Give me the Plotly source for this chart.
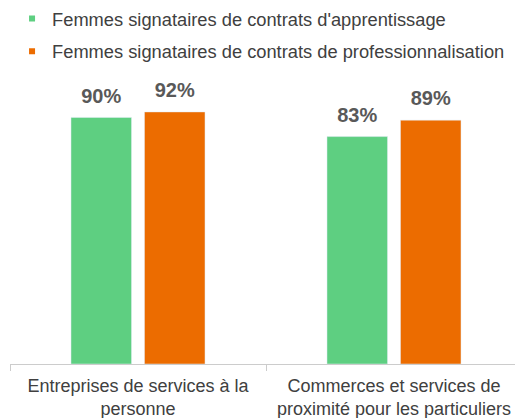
import plotly.graph_objects as go

categories = ["Entreprises de services à la<br>personne",
              "Commerces et services de<br>proximité pour les particuliers"]
apprentissage = [90, 83]
professionnalisation = [92, 89]
series_names = ["Femmes signataires de contrats d'apprentissage",
                "Femmes signataires de contrats de professionnalisation"]
colors = ["#5ECF81", "#EC6C00"]

fig = go.Figure()
for i, (name, vals, col) in enumerate(zip(series_names, [apprentissage, professionnalisation], colors)):
    fig.add_trace(go.Bar(
        x=categories, y=vals, name=name, marker_color=col,
        offsetgroup=str(i), showlegend=False))
for i, (name, vals, col) in enumerate(zip(series_names, [apprentissage, professionnalisation], colors)):
    fig.add_trace(go.Scatter(
        x=categories, y=vals, mode="markers+text", offsetgroup=str(i),
        text=[f"{v}%" for v in vals], textposition="top center",
        marker=dict(size=14, opacity=0, color=col),
        textfont=dict(family="Liberation Sans, Arial", size=20, color="#595959", weight="bold"),
        cliponaxis=False, showlegend=False, hoverinfo="skip"))
for name, col in zip(series_names, colors):
    fig.add_trace(go.Scatter(
        x=[None], y=[None], mode="markers", name=name,
        marker=dict(symbol="square", size=6, color=col), legendgroup=name))

fig.update_layout(
    width=515, height=410,
    margin=dict(l=2, r=1, t=82, b=54, autoexpand=False),
    paper_bgcolor="white", plot_bgcolor="white",
    barmode="group", bargap=0.426, bargroupgap=0.176,
    scattermode="group", scattergap=0.426,
    font=dict(family="Liberation Sans, Arial", color="#404040"),
    legend=dict(x=0.004, xanchor="left", y=1.328, yanchor="top",
                font=dict(size=18.3, color="#404040"), tracegroupgap=6,
                traceorder="grouped", itemwidth=30, bgcolor="rgba(0,0,0,0)"),
    xaxis=dict(showline=True, linecolor="#cccccc", linewidth=1,
               ticks="outside", tickson="boundaries", ticklen=6, tickcolor="#cccccc",
               ticklabelstandoff=5,
               tickfont=dict(size=18, color="#404040")),
    yaxis=dict(range=[0, 100], visible=False),
)
fig.write_html("out.html")
